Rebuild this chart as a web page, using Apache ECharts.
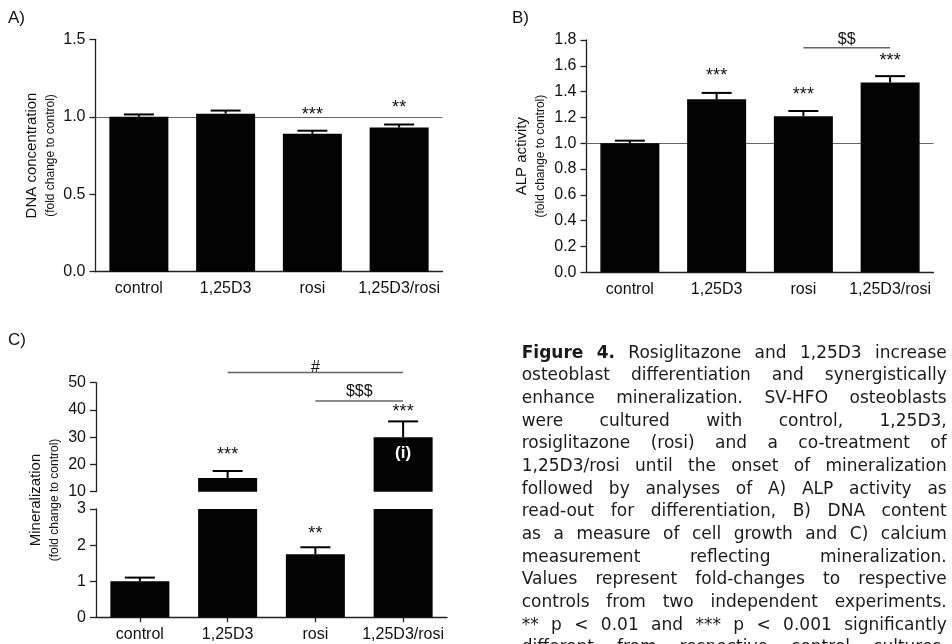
<!DOCTYPE html>
<html>
<head>
<meta charset="utf-8">
<script src="https://cdn.jsdelivr.net/npm/echarts@6/dist/echarts.min.js"></script>
<style>
  html, body { margin: 0; padding: 0; background: #fff; }
  #chart { width: 952px; height: 644px; }
</style>
</head>
<body>
<div id="chart"></div>
<script>
// ---- data ----
const categories = ['control', '1,25D3', 'rosi', '1,25D3/rosi'];
const controlLevel = 1;

// A) DNA concentration (fold change to control)
const dnaMean = [1.00, 1.02, 0.89, 0.93];
const dnaSem = [0.015, 0.02, 0.02, 0.02];
const dnaStars = ['', '', '***', '**'];
const dnaTicks = [0, 0.5, 1.0, 1.5];

// B) ALP activity (fold change to control)
const alpMean = [1.00, 1.34, 1.21, 1.47];
const alpSem = [0.02, 0.05, 0.04, 0.05];
const alpStars = ['', '***', '***', '***'];
const alpTicks = [0, 0.2, 0.4, 0.6, 0.8, 1.0, 1.2, 1.4, 1.6, 1.8];
// [from category, to category, height, label]
const alpBrackets = [[2, 3, 1.74, '$$']];

// C) Mineralization (fold change to control), broken axis
const minMean = [1.0, 15.0, 1.75, 30.0];
const minSem = [0.1, 2.6, 0.19, 5.8];
const minStars = ['', '***', '**', '***'];
const minNotes = ['', '', '', '(i)'];
const minTicksLow = [0, 1, 2, 3];
const minTicksHigh = [10, 20, 30, 40, 50];
const minBrackets = [[1, 3, 53.7, '#'], [2, 3, 43.3, '$$$']];

const captionLead = 'Figure 4.';
const captionLines = [
  'Figure 4. Rosiglitazone and 1,25D3 increase',
  'osteoblast differentiation and synergistically',
  'enhance mineralization. SV-HFO osteoblasts',
  'were cultured with control, 1,25D3,',
  'rosiglitazone (rosi) and a co-treatment of',
  '1,25D3/rosi until the onset of mineralization',
  'followed by analyses of A) ALP activity as',
  'read-out for differentiation, B) DNA content',
  'as a measure of cell growth and C) calcium',
  'measurement reflecting mineralization.',
  'Values represent fold-changes to respective',
  'controls from two independent experiments.',
  '** p < 0.01 and *** p < 0.001 significantly',
  'different from respective control cultures,'
];

// ---- styling ----
const FONT = '"Liberation Sans", Arial, sans-serif';
const INK = '#111';
const AXIS = '#222';
const BAR_W = 59;
const CAP = 30;
const starLiftA = [16, 16, 16, 16];
const starLiftB = [16, 17, 16, 15.5];
const starLiftC = [16, 16, 13, 9];
const bracketLiftB = [8.5];
const bracketLiftC = [4.7, 9];

const grids = [
  { left: 95.5, top: 39.3, width: 347, height: 232.4 },   // A
  { left: 586.5, top: 40, width: 347, height: 232.3 },    // B
  { left: 96, top: 382.7, width: 351, height: 109 },      // C upper segment
  { left: 96, top: 509, width: 351, height: 108.3 }       // C lower segment
];

function valAxis(g, ticks, digits, extra) {
  return Object.assign({
    type: 'value', gridIndex: g,
    min: ticks[0], max: ticks[ticks.length - 1], interval: ticks[1] - ticks[0],
    splitLine: { show: false },
    axisLine: { show: true, lineStyle: { color: AXIS, width: 1.3 } },
    axisTick: { show: true, length: 6, lineStyle: { color: AXIS, width: 1.3 } },
    axisLabel: {
      color: INK, fontSize: 16, fontFamily: FONT, margin: 10,
      showMinLabel: true, showMaxLabel: true,
      formatter: v => Number(v).toFixed(digits)
    }
  }, extra || {});
}

function catAxis(g, extra) {
  return Object.assign({
    type: 'category', gridIndex: g, data: categories,
    axisLine: { show: true, lineStyle: { color: AXIS, width: 1.3 } },
    axisTick: { show: false },
    axisLabel: { color: INK, fontSize: 16, fontFamily: FONT, margin: 9, interval: 0 }
  }, extra || {});
}

function twoLineName(main, sub) {
  return {
    name: '{a|' + main + '}\n{b|' + sub + '}',
    nameLocation: 'middle', nameRotate: 90,
    nameTextStyle: {
      rich: {
        a: { fontSize: 15, lineHeight: 19, fontFamily: FONT, color: INK },
        b: { fontSize: 12, lineHeight: 19, fontFamily: FONT, color: INK }
      }
    }
  };
}

function barSeries(g, mean, withRef, notes) {
  const s = {
    type: 'bar', xAxisIndex: g, yAxisIndex: g, barWidth: BAR_W, z: 2,
    itemStyle: { color: '#030303' },
    data: mean.map((v, i) => {
      const note = notes ? notes[i] : '';
      return note ? {
        value: v,
        label: {
          show: true, position: 'insideTop', distance: 8, formatter: note,
          color: '#fff', fontWeight: 'bold', fontSize: 17, fontFamily: FONT
        }
      } : v;
    })
  };
  if (withRef) {
    s.markLine = {
      silent: true, z: 1, symbol: ['none', 'none'], label: { show: false },
      lineStyle: { color: '#666', width: 1.2, type: 'solid' },
      data: [{ yAxis: controlLevel }]
    };
  }
  return s;
}

function errorSeries(g, mean, sem, stars, lift, range) {
  return {
    type: 'custom', xAxisIndex: g, yAxisIndex: g, z: 3,
    encode: { x: 0, y: [1, 2] },
    data: mean.map((m, i) => [i, m, m + sem[i]]),
    renderItem(params, api) {
      const i = params.dataIndex;
      const lo = api.value(1), hi = api.value(2);
      if (hi < range[0] || hi > range[1]) return null;
      const base = api.coord([api.value(0), Math.max(lo, range[0])]);
      const top = api.coord([api.value(0), hi]);
      const children = [
        { type: 'line', shape: { x1: base[0], y1: base[1], x2: top[0], y2: top[1] },
          style: { stroke: '#000', lineWidth: 2 } },
        { type: 'line', shape: { x1: top[0] - CAP / 2, y1: top[1], x2: top[0] + CAP / 2, y2: top[1] },
          style: { stroke: '#000', lineWidth: 2 } }
      ];
      if (stars[i]) {
        children.push({
          type: 'text', x: top[0], y: top[1] - lift[i],
          style: { text: stars[i], fontSize: 18, fontFamily: FONT, fill: INK, align: 'center', verticalAlign: 'middle' }
        });
      }
      return { type: 'group', children };
    }
  };
}

function bracketSeries(g, brackets, lift) {
  return {
    type: 'custom', xAxisIndex: g, yAxisIndex: g, z: 4, clip: false,
    encode: { x: [0, 1], y: 2 },
    data: brackets.map(b => [b[0], b[1], b[2]]),
    renderItem(params, api) {
      const i = params.dataIndex;
      const p1 = api.coord([api.value(0), api.value(2)]);
      const p2 = api.coord([api.value(1), api.value(2)]);
      return {
        type: 'group',
        children: [
          { type: 'line', shape: { x1: p1[0], y1: p1[1], x2: p2[0], y2: p2[1] },
            style: { stroke: '#666', lineWidth: 1.5 } },
          { type: 'text', x: (p1[0] + p2[0]) / 2, y: p1[1] - lift[i],
            style: { text: brackets[i][3], fontSize: 16, fontFamily: FONT, fill: INK, align: 'center', verticalAlign: 'middle' } }
        ]
      };
    }
  };
}

// ---- justified caption ----
const CAP_X = 521.7, CAP_W = 425, CAP_Y0 = 353.3, CAP_LH = 22.67, CAP_SIZE = 17;
const CAP_FONT = '"DejaVu Sans", Verdana, sans-serif';
const measureCtx = document.createElement('canvas').getContext('2d');
function wordWidth(w, bold) {
  measureCtx.font = (bold ? 'bold ' : '') + CAP_SIZE + 'px ' + CAP_FONT;
  return measureCtx.measureText(w).width;
}
const leadWords = captionLead.split(' ').length;
const captionGraphics = [];
captionLines.forEach((line, li) => {
  const words = line.split(' ');
  const bold = words.map((w, wi) => li === 0 && wi < leadWords);
  const widths = words.map((w, wi) => wordWidth(w, bold[wi]));
  const total = widths.reduce((a, b) => a + b, 0);
  const gap = words.length > 1 ? (CAP_W - total) / (words.length - 1) : 0;
  let x = CAP_X;
  words.forEach((w, wi) => {
    captionGraphics.push({
      type: 'text', x: x, y: CAP_Y0 + li * CAP_LH, silent: true,
      style: { text: w, fontSize: CAP_SIZE, fontFamily: CAP_FONT, fontWeight: bold[wi] ? 'bold' : 'normal',
               fill: '#1a1a1a', verticalAlign: 'middle' }
    });
    x += widths[wi] + gap;
  });
});

function panelLabel(text, x, y) {
  return { type: 'text', x, y, silent: true,
           style: { text, fontSize: 17, fontFamily: FONT, fill: INK, verticalAlign: 'middle' } };
}

const chart = echarts.init(document.getElementById('chart'), null, { renderer: 'canvas' });
chart.setOption({
  animation: false,
  backgroundColor: '#fff',
  grid: grids.map(g => Object.assign({ containLabel: false }, g)),
  xAxis: [
    catAxis(0),
    catAxis(1),
    catAxis(2, { show: false }),
    catAxis(3, { axisTick: { show: true, alignWithLabel: true, length: 5, lineStyle: { color: AXIS, width: 1.3 } } })
  ],
  yAxis: [
    valAxis(0, dnaTicks, 1, Object.assign(twoLineName('DNA concentration', '(fold change to control)'), { nameGap: 35 })),
    valAxis(1, alpTicks, 1, Object.assign(twoLineName('ALP activity', '(fold change to control)'), { nameGap: 36.5 })),
    valAxis(2, minTicksHigh, 0),
    valAxis(3, minTicksLow, 0)
  ],
  series: [
    barSeries(0, dnaMean, true),
    errorSeries(0, dnaMean, dnaSem, dnaStars, starLiftA, [dnaTicks[0], dnaTicks[dnaTicks.length - 1]]),
    barSeries(1, alpMean, true),
    errorSeries(1, alpMean, alpSem, alpStars, starLiftB, [alpTicks[0], alpTicks[alpTicks.length - 1]]),
    bracketSeries(1, alpBrackets, bracketLiftB),
    barSeries(2, minMean, false, minNotes),
    errorSeries(2, minMean, minSem, minStars, starLiftC, [minTicksHigh[0], minTicksHigh[minTicksHigh.length - 1]]),
    bracketSeries(2, minBrackets, bracketLiftC),
    barSeries(3, minMean, false),
    errorSeries(3, minMean, minSem, minStars, starLiftC, [minTicksLow[0], minTicksLow[minTicksLow.length - 1]])
  ],
  graphic: [
    panelLabel('A)', 8, 18.5),
    panelLabel('B)', 512, 18.5),
    panelLabel('C)', 8, 340),
    {
      type: 'text', x: 45.2, y: 500, rotation: Math.PI / 2, silent: true,
      style: {
        text: '{a|Mineralization}\n{b|(fold change to control)}',
        align: 'center', verticalAlign: 'middle',
        rich: {
          a: { fontSize: 15, lineHeight: 19, fontFamily: FONT, fill: INK, align: 'center' },
          b: { fontSize: 12, lineHeight: 19, fontFamily: FONT, fill: INK, align: 'center' }
        }
      }
    }
  ].concat(captionGraphics)
});
</script>
</body>
</html>
